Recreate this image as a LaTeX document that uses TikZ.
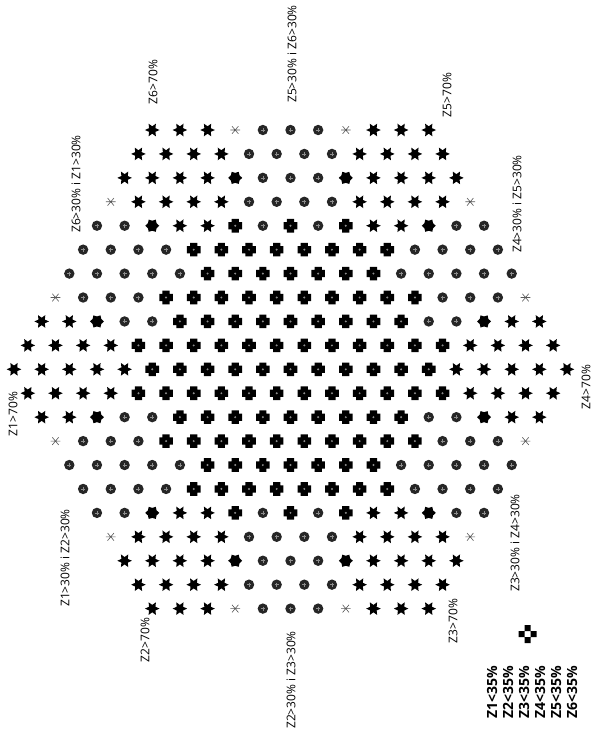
\documentclass[tikz,border=0pt]{standalone}
\usepackage{fontspec}
\setmainfont{Open Sans}
\newcommand\symat[3]{%
  \ifcase#1 \pic at (#2,#3) {symS};%
  \or \pic at (#2,#3) {symF};%
  \or \pic at (#2,#3) {symA};%
  \or \pic at (#2,#3) {symC};%
  \or \pic at (#2,#3) {symX};%
  \fi}
\begin{document}
\begin{tikzpicture}[x=1pt,y=-1pt,
  pics/symS/.style={code={\fill[black] (0:7.3)--(30:3.7)--(60:7.3)--(90:3.7)--(120:7.3)--(150:3.7)--(180:7.3)--(210:3.7)--(240:7.3)--(270:3.7)--(300:7.3)--(330:3.7)--cycle;}},
  pics/symF/.style={code={\fill[black] (0:7)--(30:5)--(60:7)--(90:5)--(120:7)--(150:5)--(180:7)--(210:5)--(240:7)--(270:5)--(300:7)--(330:5)--cycle;}},
  pics/symA/.style={code={\draw[black!65,line width=0.6pt] (-4.8,0)--(4.8,0) (-3.2,-3.8)--(3.2,3.8) (-3.2,3.8)--(3.2,-3.8);}},
  pics/symC/.style={code={\fill[black!85] (0,0) circle (5.2);
     \draw[black!45,line width=0.7pt] (-2,0)--(2,0) (0,-2)--(0,2);}},
  pics/symX/.style={code={\fill[black] (-3.6,-6.8) rectangle (3.6,6.8) (-6.8,-3.6) rectangle (6.8,3.6);
     \fill[black!45] (0,0) circle (1.1);}},
  lbl/.style={rotate=90,font=\fontsize{12}{14}\selectfont,inner sep=0pt},
]
\useasboundingbox (0,0) rectangle (594,740);
\foreach \r/\lst in {
  0/{0,0,0,2,3,3,3,2,0,0,0},
  1/{0,0,0,0,3,3,3,3,0,0,0,0},
  2/{0,0,0,0,1,3,3,3,1,0,0,0,0},
  3/{2,0,0,0,0,3,3,3,3,0,0,0,0,2},
  4/{3,3,1,0,0,4,3,4,3,4,0,0,1,3,3},
  5/{3,3,3,3,4,4,4,4,4,4,4,4,3,3,3,3},
  6/{3,3,3,3,3,4,4,4,4,4,4,4,3,3,3,3,3},
  7/{2,3,3,3,4,4,4,4,4,4,4,4,4,4,3,3,3,2},
  8/{0,0,1,3,3,4,4,4,4,4,4,4,4,4,3,3,1,0,0},
  9/{0,0,0,0,4,4,4,4,4,4,4,4,4,4,4,4,0,0,0,0},
  10/{0,0,0,0,0,4,4,4,4,4,4,4,4,4,4,4,0,0,0,0,0}}{
  \pgfmathsetmacro\nn{11+\r}
  \pgfmathsetmacro\ya{130+23.93*\r}
  \pgfmathsetmacro\yb{130+23.93*(20-\r)}
  \foreach \t [count=\k from 0] in \lst {
    \pgfmathsetmacro\xx{290.5+(\k-(\nn-1)/2)*27.65}
    \symat{\t}{\xx}{\ya}
    \ifnum\r<10 \symat{\t}{\xx}{\yb}\fi
  }
}
% labels
\node[lbl] (l6) at (153,82) {Z6>70\%};
\node[lbl] (l56) at (292,54) {Z5>30\% i Z6>30\%};
\node[lbl] (l5) at (447,95) {Z5>70\%};
\node[lbl] (l61) at (76,184) {Z6>30\% i Z1>30\%};
\node[lbl] (l45) at (517,204) {Z4>30\% i Z5>30\%};
\node[lbl] (l1) at (13,414) {Z1>70\%};
\node[lbl] (l4) at (586,387) {Z4>70\%};
\node[lbl] (l12) at (65,558) {Z1>30\% i Z2>30\%};
\node[lbl] (l34) at (515,543) {Z3>30\% i Z4>30\%};
\node[lbl] (l2) at (145,640) {Z2>70\%};
\node[lbl] (l3) at (453,621) {Z3>70\%};
\node[lbl] (l23) at (291,680) {Z2>30\% i Z3>30\%};
% legend
\fill[black] (524.5,625) rectangle (530.5,631) (518.5,631) rectangle (524.5,637)
  (530.5,631) rectangle (536.5,637) (524.5,637) rectangle (530.5,643);
\node (leg) [rotate=90,align=left,font=\bfseries\fontsize{14}{16}\selectfont,inner sep=0pt]
  at (532,692) {Z1<35\%\\Z2<35\%\\Z3<35\%\\Z4<35\%\\Z5<35\%\\Z6<35\%};
\end{tikzpicture}
\end{document}
